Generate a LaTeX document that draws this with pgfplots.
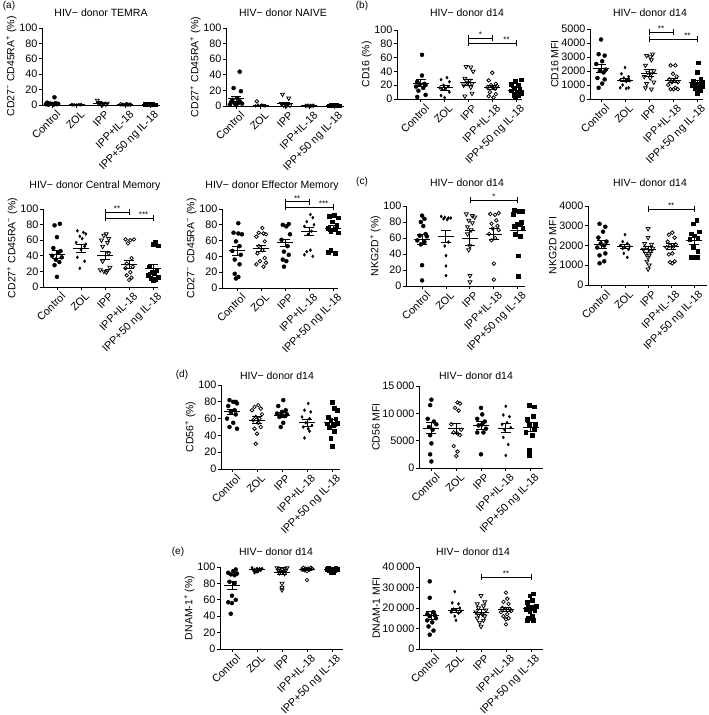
\documentclass[border=0pt]{standalone}
\usepackage{fontspec}
\setmainfont{Liberation Sans}
\usepackage{pgfplots}
\pgfplotsset{compat=1.18}
\newcommand{\tf}{\fontsize{10.8}{12}\selectfont}
\newcommand{\lf}{\fontsize{10.5}{12}\selectfont}
\newcommand{\brk}[5]{%
 \draw[line width=0.8pt] (axis cs:#1,#3) -- (axis cs:#2,#3);
 \draw[line width=0.8pt] ([yshift=-3pt]axis cs:#1,#3) -- ([yshift=3pt]axis cs:#1,#3);
 \draw[line width=0.8pt] ([yshift=-3pt]axis cs:#2,#3) -- ([yshift=3pt]axis cs:#2,#3);
 \node[font=\fontsize{8}{8}\selectfont, inner sep=0.5pt, above] at (axis cs:#4,#3) {#5};
}
\pgfplotsset{
 pr/.style={
  scale only axis, anchor=south west,
  axis x line=bottom, axis y line=left,
  axis line style={-, line width=0.9pt},
  tick align=outside, major tick length=3pt,
  every tick/.style={black, line width=0.9pt},
  xtick={0,1,2,3,4},
  xticklabels={Control,ZOL,IPP,IPP+IL-18,IPP+50 ng IL-18},
  x tick label style={rotate=45, anchor=north east, inner sep=0.5pt, yshift=-3pt, xshift=2pt, font=\tf},
  y tick label style={font=\tf, inner sep=1.5pt},
  ylabel style={font=\lf, inner sep=1pt},
  ymin=0, clip=false,
  scaled y ticks=false,
  /pgf/number format/assume math mode=true,
  /pgf/number format/1000 sep={\,},
  /pgf/number format/min exponent for 1000 sep=4,
 },
 pC/.style={only marks, mark=*, mark size=2pt, black, mark options={line width=0.4pt}},
 pD/.style={only marks, mark=diamond*, mark size=1.5pt, black},
 pT/.style={only marks, mark=triangle, mark size=2.3pt, black, mark options={rotate=180, line width=0.75pt}},
 pO/.style={only marks, mark=o, mark size=1.8pt, black, mark options={line width=0.75pt}},
 pS/.style={only marks, mark=square*, mark size=1.9pt, black},
 pM/.style={only marks, mark=-, mark size=8pt, black, mark options={line width=1pt},
   error bars/.cd, y dir=both, y explicit, error bar style={line width=1pt, black},
   error mark options={rotate=90, mark size=5pt, line width=1pt, black}},
}
\begin{document}
\begin{tikzpicture}
\path[use as bounding box] (0,0) rectangle (709pt,-715pt);
% ---------------- TEMRA
\begin{axis}[pr, at={(42pt,-105pt)}, width=118pt, height=77pt, xmin=-0.41, xmax=4.41, ymax=100, ytick={0,20,...,100},
 ylabel={CD27\textsuperscript{−} CD45RA\textsuperscript{+} (\%)}]
\addplot[pC] coordinates {(0.1,10)(-0.2,3)(-0.1,2)(0,1.5)(0.15,2.5)(0.2,1)(-0.15,0.5)(0.05,0.3)(0.25,1.5)(-0.25,1)};
\addplot[pD] coordinates {(0.8,0.5)(0.9,0.3)(1,0.2)(1.1,0.4)(1.2,0.6)(0.85,0.1)(1.15,0.2)};
\addplot[pT] coordinates {(1.85,6)(1.9,2)(2,1.5)(2.1,2)(2.2,1)(2.05,0.5)(1.95,3)(2.25,2)};
\addplot[pO] coordinates {(2.8,0.8)(2.9,0.5)(3,0.3)(3.1,0.6)(3.2,0.4)(3.05,1)};
\addplot[pS] coordinates {(3.8,0.6)(3.9,0.8)(4,0.4)(4.1,0.7)(4.2,0.5)(4.05,0.9)};
\addplot[pM] coordinates {(0,1.9)+-(0,0.8)(1,0.3)+-(0,0.1)(2,2)+-(0,0.6)(3,0.5)+-(0,0.1)(4,0.6)+-(0,0.1)};
\end{axis}
% ---------------- NAIVE
\begin{axis}[pr, at={(226pt,-106pt)}, width=118pt, height=78pt, xmin=-0.41, xmax=4.41, ymax=100, ytick={0,20,...,100},
 ylabel={CD27\textsuperscript{+} CD45RA\textsuperscript{+} (\%)}]
\addplot[pC] coordinates {(0.15,44)(-0.1,23)(0.2,19)(0.05,10)(-0.15,8)(0.15,6)(-0.2,5)(0.1,4)(-0.05,3)(0.25,3)(-0.25,2)(0,1)};
\addplot[pO] coordinates {(0.85,6)};
\addplot[pD] coordinates {(0.9,1)(1,0.5)(1.1,0.8)(1.2,0.3)(0.8,0.2)(1.05,1.2)(1.15,0.4)};
\addplot[pT] coordinates {(1.9,15)(2.15,10)(1.85,3)(2,2)(2.1,2)(2.2,1)(1.95,1)(2.05,0.5)};
\addplot[pO] coordinates {(2.85,0.3)(2.95,0.5)(3.05,0.2)(3.15,0.4)};
\addplot[pS] coordinates {(3.8,0.5)(3.9,0.8)(4,0.4)(4.1,0.7)(4.2,0.5)(4.05,1)};
\addplot[pM] coordinates {(0,9)+-(0,3.5)(1,0.8)+-(0,0.4)(2,3)+-(0,1.3)(3,0.3)+-(0,0.1)(4,0.6)+-(0,0.1)};
\end{axis}
% ---------------- Central memory
\begin{axis}[pr, at={(43pt,-287pt)}, width=115pt, height=78pt, xmin=-0.58, xmax=4.2, ymax=100, ytick={0,20,...,100},
 ylabel={CD27\textsuperscript{+} CD45RA\textsuperscript{−} (\%)}]
\addplot[pC] coordinates {(0.12,81)(-0.1,79)(0,64)(-0.15,50)(0.15,46)(0.05,44)(-0.2,40)(0.2,38)(-0.05,35)(0.1,32)(-0.1,28)(0,13)};
\addplot[pD] coordinates {(0.85,72)(1.1,70)(1.2,68)(0.95,65)(1.05,62)(0.8,57)(1.15,52)(1,48)(0.85,38)(1.15,33)(0.95,24)(1.2,55)};
\addplot[pT] coordinates {(2.05,68)(1.95,66)(2.15,62)(1.85,60)(2.1,57)(1.9,52)(2.15,43)(1.9,33)(2.2,25)(1.8,22)(2.1,21)(1.95,20)(2.05,19)};
\addplot[pO] coordinates {(2.85,61)(3.05,60)(3.2,61)(2.95,56)(3.1,37)(2.9,30)(3.15,26)(2.85,24)(3.05,19)(2.9,15)(3.1,12)(3,9)};
\addplot[pS] coordinates {(4.1,57)(4,55)(4.2,53)(3.85,26)(4.15,22)(3.95,19)(4.05,17)(3.8,15)(4.2,13)(3.9,11)(4.1,10)(4,9)};
\addplot[pM] coordinates {(0,42)+-(0,5)(1,49)+-(0,5)(2,40)+-(0,5)(3,29)+-(0,5)(4,24)+-(0,5)};
\brk{2}{3}{96}{2.5}{**}
\brk{2}{4}{88}{3.6}{***}
\end{axis}
% ---------------- Effector memory
\begin{axis}[pr, at={(222pt,-288pt)}, width=116pt, height=79pt, xmin=-0.63, xmax=4.2, ymax=100, ytick={0,20,...,100},
 ylabel={CD27\textsuperscript{−} CD45RA\textsuperscript{−} (\%)}]
\addplot[pC] coordinates {(0.05,82)(-0.15,70)(0.05,69)(0.2,68)(-0.05,59)(0.1,53)(-0.2,47)(0.15,42)(-0.1,36)(0.1,30)(-0.1,18)(0.05,14)(-0.05,12)};
\addplot[pO] coordinates {(1.05,76)(0.9,70)(1.1,69)(1.2,68)(0.8,65)(1.15,59)(0.9,53)(1.05,48)(0.85,44)(1.15,38)(0.95,34)(1.2,32)(0.8,30)(1.1,27)};
\addplot[pC] coordinates {(2.15,81)(1.9,80)(2.05,78)(2.2,68)(1.85,61)(2.1,53)(1.95,46)(2.15,42)(1.9,36)(2.05,34)(1.95,27)};
\addplot[pD] coordinates {(3.05,93)(3.15,89)(2.9,84)(3.2,80)(2.8,78)(3.1,72)(2.95,68)(3.05,48)(2.9,46)(2.8,42)(3.15,40)};
\addplot[pS] coordinates {(4.05,92)(3.85,91)(4.2,89)(3.95,84)(4.15,80)(3.8,76)(4.1,74)(3.9,72)(4.2,70)(3.9,48)(3.8,45)(4.1,44)};
\addplot[pM] coordinates {(0,47)+-(0,6)(1,50)+-(0,4)(2,57)+-(0,5)(3,71)+-(0,5)(4,75)+-(0,4)};
\brk{2}{3}{109}{2.5}{**}
\brk{2}{4}{102.5}{3.6}{***}
\end{axis}
% ---------------- CD16 %
\begin{axis}[pr, at={(397pt,-99pt)}, width=125pt, height=69pt, xmin=-1.0, xmax=4.25, ymax=100, ytick={0,20,...,100},
 ylabel={CD16 (\%)}]
\addplot[pC] coordinates {(0.05,64)(0.05,34)(-0.15,25)(0.15,22)(-0.05,21)(0.2,20)(-0.2,18)(0.1,16)(-0.1,12)(0.2,6)(-0.15,3)};
\addplot[pD] coordinates {(1.1,31)(0.85,28)(1.2,25)(0.95,20)(1.15,18)(0.8,16)(1.05,15)(0.9,14)(1.2,10)(0.85,5)(1,2)};
\addplot[pT] coordinates {(1.9,47)(2.1,46)(2.2,40)(1.85,30)(2.05,27)(1.95,24)(2.15,22)(1.8,20)(2.1,17)(2.15,8)(1.85,4)};
\addplot[pO] coordinates {(3,38)(2.85,27)(3.15,22)(2.95,20)(3.2,19)(2.8,17)(3.05,16)(3.12,15)(2.9,10)(3.15,7)(2.85,4)(3.05,2)};
\addplot[pS] coordinates {(4.2,28)(3.95,26)(3.8,22)(4.1,20)(3.9,16)(4.15,14)(3.8,12)(4.05,10)(4.2,8)(3.9,6)(4.1,5)(3.95,3)};
\addplot[pM] coordinates {(0,23)+-(0,5)(1,16)+-(0,3)(2,24)+-(0,4)(3,17)+-(0,3)(4,13)+-(0,3)};
\brk{2}{3}{88}{2.5}{*}
\brk{2}{4}{81}{3.6}{**}
\end{axis}
% ---------------- CD16 MFI
\begin{axis}[pr, at={(590pt,-99pt)}, width=113pt, height=70pt, xmin=-0.46, xmax=4.25, ymax=5000, ytick={0,1000,...,5000},
 ylabel={CD16 MFI}]
\addplot[pC] coordinates {(0,4250)(-0.1,3200)(0.15,3100)(0.05,2700)(-0.2,2500)(0.2,2100)(-0.05,2000)(0.1,1900)(-0.15,1500)(0.15,1400)(0.05,1100)(-0.1,800)};
\addplot[pD] coordinates {(1,2250)(0.85,1800)(1.15,1600)(0.95,1500)(1.1,1400)(0.8,1350)(1.2,1300)(1.05,1250)(0.9,1000)(1.15,800)(0.8,800)(1.05,750)};
\addplot[pT] coordinates {(2.15,3200)(1.9,3100)(2.05,3000)(2.1,2800)(1.85,2400)(2.2,2000)(1.95,1900)(2.1,1800)(1.8,1600)(2.05,1500)(2.2,1200)(1.9,1100)(1.85,800)(2.1,700)};
\addplot[pO] coordinates {(2.9,2400)(3.1,2400)(3,1800)(3.15,1600)(2.85,1400)(3.05,1300)(2.95,1200)(3.2,1200)(2.8,1000)(3.1,800)(2.9,700)(3.02,700)(3.2,700)};
\addplot[pS] coordinates {(4.05,2600)(4,1900)(4.15,1400)(3.85,1300)(4.2,1200)(3.95,1100)(4.1,1000)(3.8,1000)(4.2,900)(3.9,800)(4.05,700)(4.15,600)(4,400)};
\addplot[pM] coordinates {(0,2200)+-(0,300)(1,1350)+-(0,130)(2,1850)+-(0,230)(3,1300)+-(0,150)(4,1200)+-(0,150)};
\brk{2}{3}{4780}{2.5}{**}
\brk{2}{4}{4280}{3.6}{**}
\end{axis}
% ---------------- NKG2D %
\begin{axis}[pr, at={(406pt,-286pt)}, width=119pt, height=80pt, xmin=-0.67, xmax=4.3, ymax=100, ytick={0,20,...,100},
 ylabel={NKG2D\textsuperscript{+} (\%)}]
\addplot[pC] coordinates {(0,88)(0.1,84)(-0.05,80)(0.05,75)(0.15,65)(-0.1,63)(0.2,62)(-0.2,57)(0.1,55)(-0.05,52)(0,26)(0,7)};
\addplot[pD] coordinates {(0.8,87)(0.95,86)(1.1,85)(1.2,85)(0.9,84)(1.05,83)(1.1,55)(0.95,50)(1,38)(1,25)(1,13)};
\addplot[pT] coordinates {(1.85,90)(2.1,88)(2.2,86)(1.95,82)(2.1,79)(1.9,74)(2.05,70)(1.9,65)(2,50)(1.95,45)(2,13)(2,5)};
\addplot[pO] coordinates {(2.85,90)(3.05,89)(3.2,91)(3.1,82)(2.9,78)(3.15,75)(2.95,72)(3.2,70)(2.8,65)(3.05,60)(2.9,57)(3,28)(3,8)};
\addplot[pS] coordinates {(3.85,95)(4.05,94)(4.2,94)(3.8,90)(4.15,80)(3.95,78)(4.1,77)(3.85,75)(4.2,73)(3.9,65)(4.1,62)(4,38)(4,12)};
\addplot[pM] coordinates {(0,58)+-(0,6)(1,62)+-(0,8)(2,60)+-(0,9)(3,65)+-(0,7)(4,70)+-(0,7)};
\brk{2}{4}{107}{3}{*}
\end{axis}
% ---------------- NKG2D MFI
\begin{axis}[pr, at={(588pt,-285pt)}, width=119pt, height=79pt, xmin=-0.6, xmax=4.55, ymax=4000, ytick={0,1000,...,4000},
 ylabel={NKG2D MFI}]
\addplot[pC] coordinates {(-0.1,3100)(0.15,2950)(0.05,2700)(-0.15,2400)(0.2,2200)(-0.05,2100)(0.1,2000)(-0.2,1900)(0.15,1600)(-0.1,1500)(0.1,1200)(-0.1,1100)};
\addplot[pD] coordinates {(1,2550)(0.9,2200)(1.1,2100)(0.8,2000)(1.2,1950)(1,1900)(0.9,1850)(1.15,1800)(0.95,1600)(1.1,1400)};
\addplot[pT] coordinates {(2,2850)(2,2400)(1.85,2100)(2.15,2050)(1.95,1900)(2.2,1850)(1.8,1800)(2.1,1700)(1.9,1600)(2.05,1500)(2,1400)(1.95,1200)(2.05,1000)(2,800)};
\addplot[pO] coordinates {(3.05,2650)(2.9,2550)(3.15,2400)(2.85,2200)(3.2,2050)(2.95,2000)(3.1,1950)(2.8,1900)(3.05,1600)(2.9,1550)(3.15,1200)(2.95,1150)(3.05,1100)};
\addplot[pS] coordinates {(4.1,3300)(3.95,3100)(4.2,2700)(3.85,2600)(4,2500)(4.15,2400)(3.8,2300)(3.95,1900)(4.15,1700)(3.85,1400)(4,1400)(4.15,1400)};
\addplot[pM] coordinates {(0,2050)+-(0,200)(1,1950)+-(0,100)(2,1800)+-(0,150)(3,1950)+-(0,150)(4,2250)+-(0,180)};
\brk{2}{4}{3830}{3}{**}
\end{axis}
% ---------------- CD56 %
\begin{axis}[pr, at={(221pt,-469pt)}, width=119pt, height=84pt, xmin=-0.44, xmax=4.32, ymax=100, ytick={0,20,...,100},
 ylabel={CD56\textsuperscript{+} (\%)}]
\addplot[pC] coordinates {(-0.1,82)(0.15,80)(0.05,80)(0.2,78)(-0.15,75)(0.1,70)(-0.05,68)(0.15,65)(-0.2,60)(0.05,55)(-0.1,50)(0.2,48)};
\addplot[pO] coordinates {(1.05,76)(0.9,74)(1.15,72)(0.8,70)(1.2,65)(0.95,62)(1.1,60)(0.85,58)(1.05,55)(1.15,50)(0.9,48)(1,42)(0.95,30)};
\addplot[pC] coordinates {(2.05,82)(1.85,75)(2.15,70)(2,68)(1.8,66)(2.2,65)(1.95,64)(2.1,63)(1.9,62)(2.05,55)(1.95,50)};
\addplot[pD] coordinates {(3.05,78)(2.9,70)(3.15,68)(2.8,62)(3.1,60)(2.95,55)(3.2,52)(2.85,50)(3.05,48)(3.1,45)(2.9,37)};
\addplot[pS] coordinates {(4,80)(4.1,72)(4.2,70)(3.85,62)(4.15,60)(3.95,58)(4.2,55)(3.8,54)(4.05,52)(3.9,50)(4.1,45)(3.95,37)(4,27)};
\addplot[pM] coordinates {(0,68)+-(0,3)(1,58)+-(0,4)(2,64)+-(0,3)(3,55)+-(0,4)(4,55)+-(0,4)};
\end{axis}
% ---------------- CD56 MFI
\begin{axis}[pr, at={(419pt,-468pt)}, width=124pt, height=82pt, xmin=-0.5, xmax=4.5, ymax=15000, ytick={0,5000,10000,15000},
 ylabel={CD56 MFI}]
\addplot[pC] coordinates {(0,12500)(-0.05,11500)(-0.15,9000)(0.1,8500)(0.2,8000)(-0.1,7500)(0.05,7000)(-0.05,6000)(0,4500)(-0.05,2500)(0,1200)};
\addplot[pO] coordinates {(1.05,12000)(1.15,11800)(0.95,11000)(1.1,10500)(0.8,8000)(1.2,7000)(0.9,6500)(1.05,6300)(1.15,6000)(0.9,4000)(1.05,3000)(1,2200)};
\addplot[pC] coordinates {(2,11000)(2.05,9800)(1.85,9000)(2.15,8500)(2.05,8000)(1.9,7800)(2.2,7200)(1.85,6500)(2.1,6500)(2,2500)};
\addplot[pD] coordinates {(3,11300)(2.9,9700)(3.15,9400)(3.05,8300)(2.85,8000)(3.2,7400)(2.95,7000)(2.9,5600)(3.1,4300)(3,2300)};
\addplot[pS] coordinates {(3.95,11500)(4.15,11200)(4.1,9500)(3.85,9000)(4.2,8000)(3.95,7800)(4.15,7000)(3.8,6500)(4.05,6000)(3.95,3300)(3.95,2300)};
\addplot[pM] coordinates {(0,7300)+-(0,1000)(1,7300)+-(0,900)(2,7800)+-(0,700)(3,7300)+-(0,800)(4,7500)+-(0,800)};
\end{axis}
% ---------------- DNAM %
\begin{axis}[pr, at={(220pt,-649pt)}, width=123pt, height=82pt, xmin=-0.48, xmax=4.44, ymax=100, ytick={0,20,...,100},
 ylabel={DNAM-1\textsuperscript{+} (\%)}]
\addplot[pC] coordinates {(0.15,97)(0.05,95)(-0.15,93)(0.2,92)(-0.05,91)(0.1,90)(-0.1,82)(0.1,80)(0,65)(0.15,60)(-0.15,57)(0,56)(-0.05,43)};
\addplot[pD] coordinates {(0.8,99)(1,98)(1.2,98)(0.9,97)(1.1,97)(0.85,96)(1.15,96)(1.05,95)(0.95,95)(1,94)(0.9,93)(1.1,98)};
\addplot[pT] coordinates {(1.8,99)(2.2,99)(1.9,98)(2.1,98)(2,97)(1.85,96)(2.15,96)(1.95,95)(2.05,94)(1.9,93)(2.1,92)(2,80)(2,75)(2,72)};
\addplot[pO] coordinates {(2.85,99)(3.15,99)(2.95,98)(3.05,98)(3.2,98)(2.8,97)(3.1,97)(2.9,96)(3,95)(3,84)};
\addplot[pS] coordinates {(3.85,99)(4.15,99)(3.95,98)(4.05,98)(4.2,97)(3.8,97)(4.1,96)(3.9,96)(4,95)(4.05,94)(3.95,93)};
\addplot[pM] coordinates {(0,77)+-(0,5)(1,97)+-(0,0.5)(2,93)+-(0,2)(3,97)+-(0,1)(4,97)+-(0,0.5)};
\end{axis}
% ---------------- DNAM MFI
\begin{axis}[pr, at={(419pt,-649pt)}, width=124pt, height=82pt, xmin=-0.48, xmax=4.48, ymax=40000, ytick={0,10000,...,40000},
 ylabel={DNAM-1 MFI}]
\addplot[pC] coordinates {(-0.05,33000)(-0.05,25000)(0.1,18000)(-0.15,17000)(0.15,16500)(-0.05,16000)(0.2,15000)(-0.15,14000)(0.05,13000)(-0.1,11000)(0.1,9000)(-0.05,7000)};
\addplot[pD] coordinates {(0.95,28000)(0.85,22500)(1.1,22000)(1.15,20000)(0.9,19500)(1,19000)(1.2,18500)(0.8,18000)(1.1,17500)(0.95,16000)(1,14000)(0.85,19000)};
\addplot[pT] coordinates {(2,26000)(2.15,23000)(1.85,22000)(2.1,21000)(1.9,20000)(2.2,19000)(1.8,18000)(2.05,17000)(1.9,16500)(2.15,16000)(1.85,15000)(2.1,14000)(1.95,13000)(2,11000)};
\addplot[pO] coordinates {(3,27500)(3.05,24500)(2.9,23000)(3.1,22000)(2.85,20000)(3.15,19500)(2.95,19000)(3.2,18500)(2.8,18000)(3.05,17000)(2.9,16000)(3.1,15000)(3,14500)(3,12000)};
\addplot[pS] coordinates {(4.1,27000)(3.95,26000)(4.05,24000)(3.85,23000)(4.2,21000)(3.9,20500)(4.1,20000)(3.8,19500)(4.15,19000)(3.95,18500)(4.05,16000)(3.9,15000)(4.1,14000)(3.85,14000)};
\addplot[pM] coordinates {(0,16500)+-(0,2000)(1,19000)+-(0,1000)(2,18000)+-(0,1100)(3,19300)+-(0,1000)(4,20000)+-(0,1000)};
\brk{2}{4}{35000}{3}{**}
\end{axis}
% ---------------- titles and panel letters
\begin{scope}[every node/.style={font=\fontsize{10.5}{12}\selectfont, inner sep=0pt}]
\node at (101pt,-13pt) {HIV− donor TEMRA};
\node at (283pt,-13pt) {HIV− donor NAIVE};
\node at (95pt,-186pt) {HIV− donor Central Memory};
\node at (272pt,-186pt) {HIV− donor Effector Memory};
\node at (467pt,-13pt) {HIV− donor d14};
\node at (650pt,-13pt) {HIV− donor d14};
\node at (467pt,-183pt) {HIV− donor d14};
\node at (650pt,-183pt) {HIV− donor d14};
\node at (277pt,-376pt) {HIV− donor d14};
\node at (476pt,-376pt) {HIV− donor d14};
\node at (276pt,-552pt) {HIV− donor d14};
\node at (473pt,-552pt) {HIV− donor d14};
\end{scope}
\begin{scope}[every node/.style={font=\fontsize{10}{12}\selectfont, inner sep=0pt}]
\node at (9pt,-6pt) {(a)};
\node at (362pt,-6pt) {(b)};
\node at (362pt,-182pt) {(c)};
\node at (182pt,-375pt) {(d)};
\node at (178pt,-552pt) {(e)};
\end{scope}
\end{tikzpicture}
\end{document}
